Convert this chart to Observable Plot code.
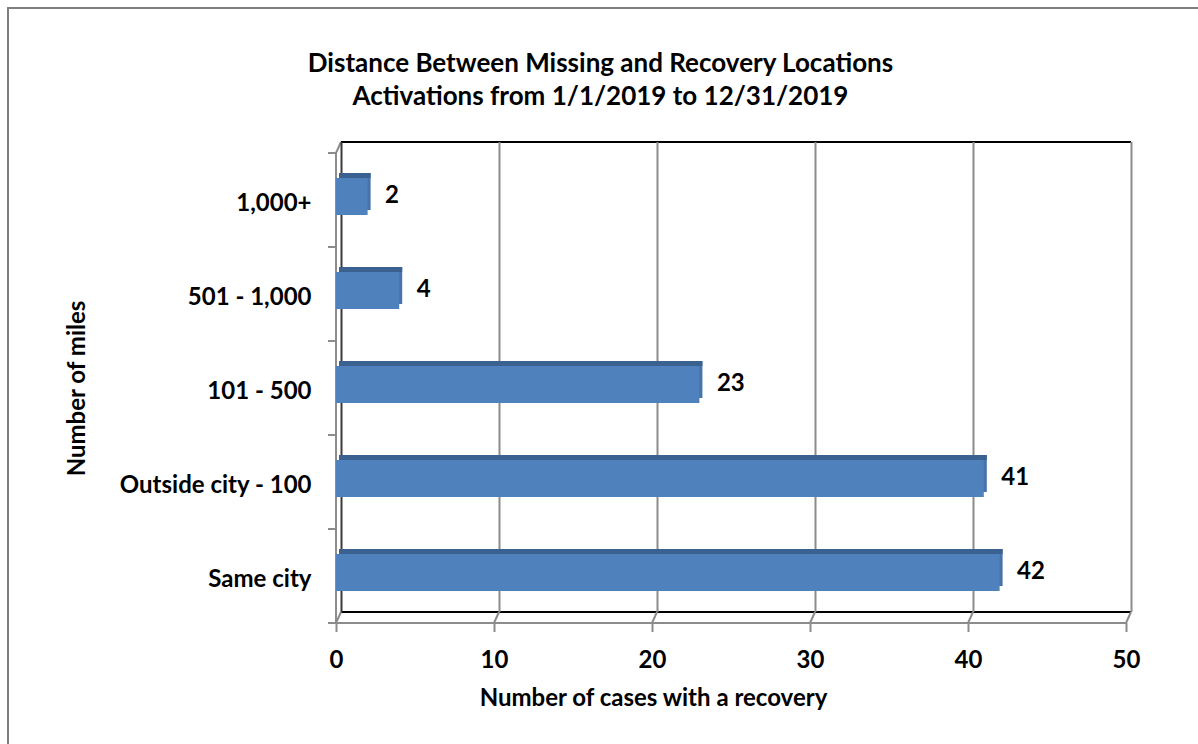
<!DOCTYPE html>
<html><head><meta charset="utf-8">
<script src="https://cdn.jsdelivr.net/npm/d3@7"></script>
<script src="https://cdn.jsdelivr.net/npm/@observablehq/plot@0.6"></script>
<style>
html,body{margin:0;padding:0;background:#fff;}
#chart{position:relative;width:1198px;height:744px;overflow:hidden;}
#border{position:absolute;left:7px;top:7px;width:1400px;height:1000px;border-left:2.5px solid #7f7f7f;border-top:2.5px solid #7f7f7f;}
#chart svg{position:absolute;left:0;top:0;}
</style></head><body><div id="chart"><div id="border"></div></div>
<script>
const categories = ["1,000+", "501 - 1,000", "101 - 500", "Outside city - 100", "Same city"];
const values = [2, 4, 23, 41, 42];
const xTicks = [0, 10, 20, 30, 40, 50];
const titleLines = ["Distance Between Missing and Recovery Locations", "Activations from 1/1/2019 to 12/31/2019"];
const xLabel = "Number of cases with a recovery";
const yLabel = "Number of miles";

const data = categories.map((c, i) => ({category: c, value: values[i]}));

const W = 1198, H = 744, mL = 336, mR = 72, mT = 153, mB = 121;
const DX = 5, DY = -11;
const band = (H - mT - mB) / categories.length;
const faceTop = 25, faceBot = 32;
const FONT = "Lato, 'Open Sans', sans-serif";

const plot = Plot.plot({
  width: W, height: H,
  marginLeft: mL, marginRight: mR, marginTop: mT, marginBottom: mB,
  style: {fontFamily: FONT, fontSize: "24px", fontWeight: "bold", color: "black", background: "transparent"},
  x: {domain: [0, 50]},
  y: {domain: categories, padding: 0},
  marks: [
    Plot.ruleX([0], {dx: DX, dy: DY, stroke: "#3a3a3a", strokeWidth: 2}),
    Plot.ruleX(xTicks.slice(1), {dx: DX, dy: DY, stroke: "#8c8c8c", strokeWidth: 2}),
    // side face
    Plot.barX(data, {x: "value", y: "category", fill: "#4673aa", dx: 3, dy: -5, insetTop: faceTop, insetBottom: faceBot}),
    // top face
    Plot.barX(data, {x: "value", y: "category", fill: "#3a6190", dx: 3, insetTop: faceTop - 5, insetBottom: band - faceTop}),
    // front face
    Plot.barX(data, {x: "value", y: "category", fill: "#4f81bd", insetTop: faceTop, insetBottom: faceBot}),
    Plot.text(data, {x: "value", y: "category", text: d => String(d.value), textAnchor: "start", dx: 17, dy: -5, fill: "black"}),
    Plot.axisY({tickSize: 0, tickPadding: 25, label: null, dy: 3}),
    Plot.axisX({ticks: xTicks, tickSize: 9, tickPadding: 18, stroke: "#8c8c8c", strokeWidth: 2, label: null}),
    Plot.text([titleLines[0]], {frameAnchor: "top", textAnchor: "middle", dx: -131, dy: -100, fontSize: 26}),
    Plot.text([titleLines[1]], {frameAnchor: "top", textAnchor: "middle", dx: -131, dy: -67, fontSize: 26}),
    Plot.text([xLabel], {frameAnchor: "bottom", textAnchor: "middle", dx: -78, dy: 82}),
    Plot.text([yLabel], {frameAnchor: "left", textAnchor: "middle", rotate: -90, dx: -259, dy: 0})
  ]
});

document.getElementById("chart").appendChild(plot);

// 3-D walls and floor edges derived from the plot's own scales
const xs = plot.scale("x"), ys = plot.scale("y");
const X = v => xs.apply(v);
const bottom = H - mB;
const svg = d3.select(plot);
const g = svg.insert("g", "g").attr("fill", "none");
const line = (x1, y1, x2, y2, stroke) =>
  g.append("line").attr("x1", x1).attr("y1", y1).attr("x2", x2).attr("y2", y2)
    .attr("stroke", stroke).attr("stroke-width", 2);
line(X(0) + DX, mT + DY, X(50) + DX, mT + DY, "#000");
line(X(0) + DX, bottom + DY, X(50) + DX, bottom + DY, "#000");
line(X(0), bottom, X(50), bottom, "#8c8c8c");
line(X(0), mT, X(0), bottom, "#8c8c8c");
line(X(0), mT, X(0) + DX, mT + DY, "#8c8c8c");
xTicks.forEach(v => line(X(v), bottom, X(v) + DX, bottom + DY, "#8c8c8c"));
const bw = ys.bandwidth;
const bounds = categories.map(c => ys.apply(c)).concat([ys.apply(categories[categories.length - 1]) + bw]);
bounds.forEach(yy => line(X(0) - 8, yy, X(0), yy, "#8c8c8c"));
</script></body></html>
